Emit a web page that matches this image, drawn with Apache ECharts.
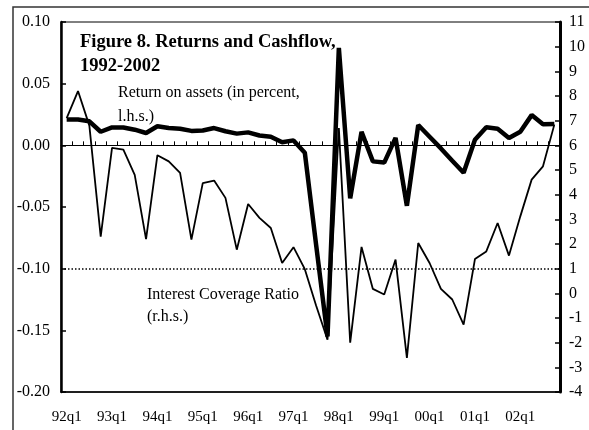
<!DOCTYPE html>
<html>
<head>
<meta charset="utf-8">
<script src="https://cdn.jsdelivr.net/npm/echarts@6/dist/echarts.min.js"></script>
<style>
  html, body { margin: 0; padding: 0; background: #fff; }
  #chart { width: 589px; height: 430px; }
</style>
</head>
<body>
<div id="chart"></div>
<script>
// quarters 1992q1 - 2002q4
const quarters = [
  '92q1', '92q2', '92q3', '92q4', '93q1', '93q2', '93q3', '93q4',
  '94q1', '94q2', '94q3', '94q4', '95q1', '95q2', '95q3', '95q4',
  '96q1', '96q2', '96q3', '96q4', '97q1', '97q2', '97q3', '97q4',
  '98q1', '98q2', '98q3', '98q4', '99q1', '99q2', '99q3', '99q4',
  '00q1', '00q2', '00q3', '00q4', '01q1', '01q2', '01q3', '01q4',
  '02q1', '02q2', '02q3', '02q4'
]

// return on assets, left axis
const roa = [
  0.021, 0.021, 0.0195, 0.011, 0.0145, 0.0145, 0.0127, 0.010,
  0.0155, 0.014, 0.0135, 0.0117, 0.012, 0.014, 0.0114, 0.0095,
  0.0105, 0.008, 0.007, 0.0025, 0.004, -0.006, -0.081, -0.155,
  0.079, -0.043, 0.011, -0.013, -0.014, 0.006, -0.049, 0.0165,
  0.007, -0.0025, -0.0125, -0.0222, 0.0045, 0.0146, 0.0135, 0.006,
  0.011, 0.0245, 0.017, 0.0172
]

// interest coverage ratio, right axis
const icr = [
  7.1, 8.2, 6.8, 2.3, 5.9, 5.83, 4.8, 2.2,
  5.6, 5.35, 4.88, 2.18, 4.47, 4.57, 3.87, 1.77,
  3.62, 3.06, 2.65, 1.23, 1.87, 0.98, -0.5, -1.88,
  6.7, -2.0, 1.88, 0.18, -0.05, 1.37, -2.62, 2.04,
  1.23, 0.18, -0.25, -1.27, 1.39, 1.7, 2.85, 1.53,
  3.12, 4.61, 5.15, 6.84
]

const leftTicks = { min: -0.2, max: 0.1, step: 0.05 }
const rightTicks = { min: -4, max: 11, step: 1 }

const serif = '"Liberation Serif", "Times New Roman", serif'

const chart = echarts.init(document.getElementById('chart'))

const option = {
  backgroundColor: '#fff',
  animation: false,
  textStyle: { fontFamily: serif, color: '#000' },
  grid: {
    left: 61,
    right: 29,
    top: 22,
    bottom: 38,
    show: true,
    borderColor: '#000',
    borderWidth: 1
  },
  xAxis: [
    {
      type: 'category',
      data: quarters,
      boundaryGap: true,
      position: 'bottom',
      axisLine: { onZero: false, lineStyle: { color: '#000', width: 1.5 } },
      axisTick: { show: false },
      axisLabel: {
        interval: 3,
        margin: 18,
        fontSize: 15,
        fontFamily: serif,
        color: '#000'
      },
      splitLine: { show: false }
    },
    {
      // axis line drawn at zero with small ticks
      type: 'category',
      data: quarters,
      boundaryGap: true,
      position: 'bottom',
      axisLine: { onZero: true, onZeroAxisIndex: 0, lineStyle: { color: '#000', width: 1 } },
      axisTick: { show: true, inside: true, interval: 0, length: 4, lineStyle: { color: '#000', width: 1 } },
      axisLabel: { show: false },
      splitLine: { show: false }
    }
  ],
  yAxis: [
    {
      type: 'value',
      min: leftTicks.min,
      max: leftTicks.max,
      interval: leftTicks.step,
      position: 'left',
      axisLine: { show: true, lineStyle: { color: '#000', width: 2.5 } },
      axisTick: { show: true, inside: true, length: 5, lineStyle: { color: '#000', width: 1.5 } },
      axisLabel: {
        margin: 11,
        fontSize: 16,
        fontFamily: serif,
        color: '#000',
        formatter: v => v.toFixed(2)
      },
      splitLine: { show: false }
    },
    {
      type: 'value',
      min: rightTicks.min,
      max: rightTicks.max,
      interval: rightTicks.step,
      position: 'right',
      axisLine: { show: true, lineStyle: { color: '#000', width: 3 } },
      axisTick: { show: true, inside: true, length: 5, lineStyle: { color: '#000', width: 1.5 } },
      axisLabel: {
        margin: 9,
        fontSize: 16,
        fontFamily: serif,
        color: '#000'
      },
      splitLine: { show: false }
    }
  ],
  series: [
    {
      name: 'Interest Coverage Ratio',
      type: 'line',
      xAxisIndex: 0,
      yAxisIndex: 1,
      data: icr,
      symbol: 'none',
      lineStyle: { color: '#000', width: 1.8 },
      z: 3
    },
    {
      name: 'Return on assets',
      type: 'line',
      xAxisIndex: 0,
      yAxisIndex: 0,
      data: roa,
      symbol: 'none',
      lineStyle: { color: '#000', width: 4.5 },
      z: 4,
      markLine: {
        silent: true,
        symbol: 'none',
        label: { show: false },
        lineStyle: { color: '#000', type: [1.5, 2], width: 1.5 },
        data: [{ yAxis: -0.1 }]
      }
    }
  ],
  graphic: [
    {
      type: 'rect',
      shape: { x: 13, y: 7, width: 620, height: 460 },
      style: { fill: 'none', stroke: '#333', lineWidth: 1.5 },
      silent: true
    },
    {
      type: 'text',
      left: 80,
      top: 30,
      style: {
        text: 'Figure 8. Returns and Cashflow,\n1992-2002',
        font: 'bold 18.5px ' + serif,
        lineHeight: 24,
        fill: '#000'
      }
    },
    {
      type: 'text',
      left: 118,
      top: 81,
      style: {
        text: 'Return on assets (in percent,\nl.h.s.)',
        font: '16px ' + serif,
        lineHeight: 24,
        fill: '#000'
      }
    },
    {
      type: 'text',
      left: 147,
      top: 284,
      style: {
        text: 'Interest Coverage Ratio\n(r.h.s.)',
        font: '16px ' + serif,
        lineHeight: 22,
        fill: '#000'
      }
    }
  ]
}

chart.setOption(option)
window.addEventListener('resize', () => chart.resize())
</script>
</body>
</html>
